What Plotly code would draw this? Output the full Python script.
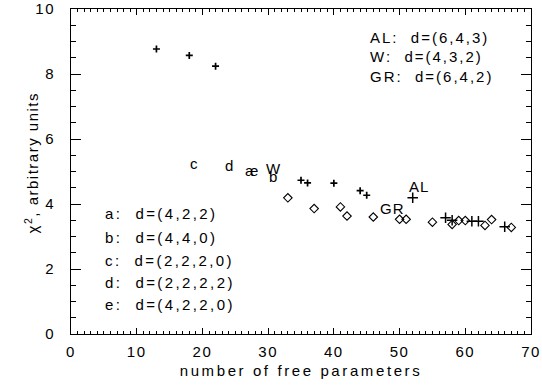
import plotly.graph_objects as go

# ---- data ----
plus_small_x = [13, 18, 22, 35, 36, 40, 44, 45]
plus_small_y = [8.77, 8.57, 8.24, 4.73, 4.65, 4.64, 4.41, 4.27]
plus_large_x = [52, 57, 58, 61, 62, 66]
plus_large_y = [4.19, 3.58, 3.50, 3.47, 3.47, 3.30]
diamond_x = [33, 37, 41, 42, 46, 50, 51, 55, 58, 59, 60, 63, 64, 67]
diamond_y = [4.19, 3.86, 3.91, 3.63, 3.60, 3.53, 3.53, 3.44, 3.37, 3.49, 3.49, 3.34, 3.52, 3.28]

point_labels = ["c", "d", "a", "e", "W", "b", "AL", "GR"]
point_label_x = [18.83, 24.05, 27.1, 27.85, 30.75, 30.75, 52.9, 48.9]
point_label_y = [5.25, 5.20, 5.04, 5.04, 5.10, 4.84, 4.53, 3.85]

legend_tr = ["AL:  d=(6,4,3)", "W:  d=(4,3,2)", "GR:  d=(6,4,2)"]
legend_bl = ["a:  d=(4,2,2)", "b:  d=(4,4,0)", "c:  d=(2,2,2,0)", "d:  d=(2,2,2,2)", "e:  d=(4,2,2,0)"]

x_ticks = [0, 10, 20, 30, 40, 50, 60, 70]
y_ticks = [0, 2, 4, 6, 8, 10]

FONT = "Liberation Sans, Arial, sans-serif"

def spaced(s, px):
    return '<span style="letter-spacing:%spx">%s</span>' % (px, s)

fig = go.Figure()
fig.add_trace(go.Scatter(x=plus_small_x, y=plus_small_y, mode="markers",
                         marker=dict(symbol="cross-thin-open", size=5, color="black",
                                     line=dict(width=1.7, color="black"))))
fig.add_trace(go.Scatter(x=plus_large_x, y=plus_large_y, mode="markers",
                         marker=dict(symbol="cross-thin-open", size=7.5, color="black",
                                     line=dict(width=1.5, color="black"))))
fig.add_trace(go.Scatter(x=diamond_x, y=diamond_y, mode="markers",
                         marker=dict(symbol="diamond-open", size=6.5, color="black",
                                     line=dict(width=1.1, color="black"))))
# invisible trace on the mirrored (top/right) axes so their ticks are drawn
fig.add_trace(go.Scatter(x=[0], y=[0], xaxis="x2", yaxis="y2", mode="markers",
                         marker=dict(opacity=0), hoverinfo="skip"))

anns = []
for t, x, y in zip(point_labels, point_label_x, point_label_y):
    anns.append(dict(x=x, y=y, xref="x", yref="y", text=spaced(t, 1), showarrow=False,
                     xanchor="center", yanchor="middle", font=dict(size=15, color="black", family=FONT)))

tr_y = [0.912, 0.853, 0.793]
for t, y in zip(legend_tr, tr_y):
    anns.append(dict(x=0.645, y=y, xref="paper", yref="paper", text=spaced(t, 2), showarrow=False,
                     xanchor="left", yanchor="middle", font=dict(size=15, color="black", family=FONT)))

bl_y = [0.372, 0.298, 0.225, 0.158, 0.090]
for t, y in zip(legend_bl, bl_y):
    anns.append(dict(x=0.07, y=y, xref="paper", yref="paper", text=spaced(t, 2.4), showarrow=False,
                     xanchor="left", yanchor="middle", font=dict(size=15, color="black", family=FONT)))

# y-axis title as a rotated annotation
anns.append(dict(x=-0.087, y=0.528, xref="paper", yref="paper", textangle=-90,
                 text=spaced("χ<sup>2</sup>, arbitrary units", 1.5), showarrow=False,
                 xanchor="center", yanchor="middle", font=dict(size=15, color="black", family=FONT)))

common = dict(tickcolor="black", tickwidth=1, showline=True, linecolor="black", linewidth=1,
              showgrid=False, zeroline=False, automargin=False, ticks="inside")

fig.update_layout(
    width=542, height=387,
    margin=dict(l=71, r=11, t=9, b=53),
    paper_bgcolor="white", plot_bgcolor="white",
    showlegend=False,
    font=dict(family=FONT, size=15, color="black"),
    annotations=anns,
    xaxis=dict(range=[0, 70], tickvals=x_ticks, ticktext=[spaced(str(v), 1.5) for v in x_ticks],
               ticklen=6, mirror=False,
               minor=dict(dtick=1, ticks="inside", ticklen=3, tickcolor="black", tickwidth=1, showgrid=False),
               ticklabelstandoff=4,
               title=dict(text=spaced("number of free parameters", 2.6), standoff=6,
                          font=dict(size=15, family=FONT)), **common),
    yaxis=dict(range=[0, 10], tickvals=y_ticks, ticktext=[spaced(str(v), 1.5) for v in y_ticks],
               ticklen=10, mirror=False,
               minor=dict(dtick=0.5, ticks="inside", ticklen=5, tickcolor="black", tickwidth=1, showgrid=False),
               ticklabelstandoff=12, **common),
    xaxis2=dict(range=[0, 70], overlaying="x", side="top", tickvals=x_ticks, showticklabels=False,
                ticklen=6,
                minor=dict(dtick=1, ticks="inside", ticklen=3, tickcolor="black", tickwidth=1, showgrid=False),
                **common),
    yaxis2=dict(range=[0, 10], overlaying="y", side="right", tickvals=y_ticks, showticklabels=False,
                ticklen=10,
                minor=dict(dtick=0.5, ticks="inside", ticklen=5, tickcolor="black", tickwidth=1, showgrid=False),
                **common),
)

# remove the default 8px page margin so the figure sits at the window's top-left corner
fig.write_html("out.html", config={"displayModeBar": False},
               post_script="document.body.style.margin='0';")
